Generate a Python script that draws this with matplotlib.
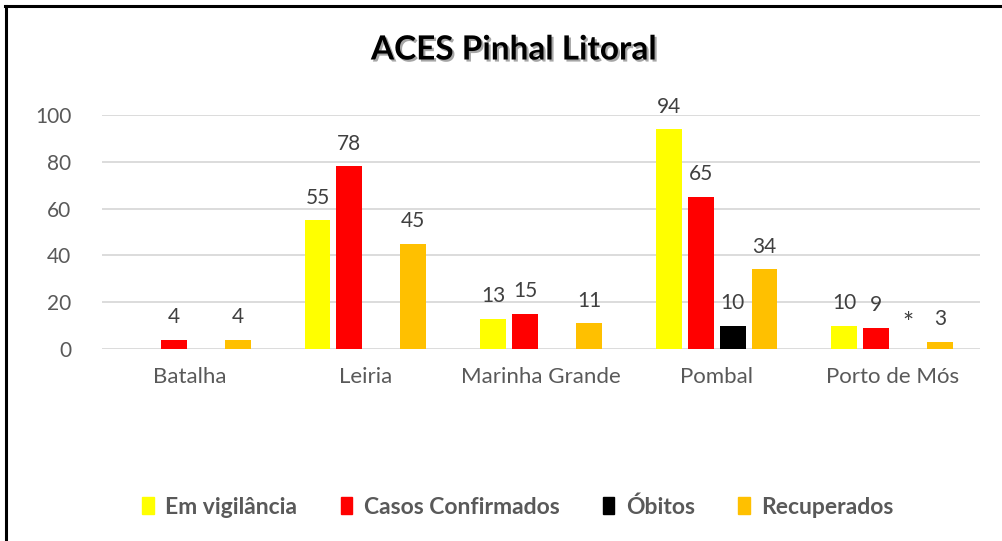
import numpy as np
import matplotlib
matplotlib.use("Agg")
import matplotlib.pyplot as plt
from matplotlib import patheffects
from matplotlib.lines import Line2D

plt.rcParams['font.family'] = ['Lato', 'DejaVu Sans']

categories = ["Batalha", "Leiria", "Marinha Grande", "Pombal", "Porto de Mós"]
series_names = ["Em vigilância", "Casos Confirmados", "Óbitos", "Recuperados"]
em_vigilancia = [np.nan, 55, 13, 94, 10]
casos_confirmados = [4, 78, 15, 65, 9]
obitos = [np.nan, np.nan, np.nan, 10, 0]
recuperados = [4, 45, 11, 34, 3]
obitos_labels = ["", "", "", "10", "*"]
yticks = [0, 20, 40, 60, 80, 100]

colors = ["#FFFF00", "#FF0000", "#000000", "#FFC000"]
gray = "#595959"
label_gray = "#404040"

fig = plt.figure(figsize=(10.03, 5.41), dpi=100)
ax = fig.add_axes([102/1003, 1-349/541, (980-102)/1003, (349-115)/541])

x = np.arange(len(categories))
step = 32/176
width = 26/176
all_series = [em_vigilancia, casos_confirmados, obitos, recuperados]
for i, (vals, c, name) in enumerate(zip(all_series, colors, series_names)):
    pos = x + (i - 1.5) * step
    v = np.array(vals, dtype=float)
    ax.bar(pos, np.nan_to_num(v), width=width, color=c, label=name, zorder=3)
    for j, (p, val) in enumerate(zip(pos, v)):
        if i == 2:
            txt = obitos_labels[j]
        else:
            txt = "" if np.isnan(val) else f"{int(val)}"
        if txt:
            yv = 0 if np.isnan(val) else val
            fs = 19 if txt == "*" else 15
            ax.annotate(txt, (p, yv), xytext=(0, 9), textcoords="offset points",
                        ha="center", va="bottom", fontsize=fs, color=label_gray)

ax.set_xlim(-0.5, len(categories) - 0.5)
ax.set_ylim(0, 100)
ax.set_yticks(yticks)
ax.set_xticks(x)
ax.set_xticklabels(categories, fontsize=16)
ax.tick_params(axis='both', length=0, colors=gray)
ax.tick_params(axis='y', labelsize=15, pad=22)
ax.tick_params(axis='x', pad=13)
for s in ax.spines.values():
    s.set_visible(False)
ax.yaxis.grid(True, color="#D9D9D9", linewidth=1.3, zorder=0)
ax.set_axisbelow(True)

t = fig.text(514/1003, 1-50/541, "ACES Pinhal Litoral", ha="center", va="center",
             fontsize=24, fontweight="bold", color="black")
t.set_path_effects([patheffects.withSimplePatchShadow(offset=(1.5, -1.5), shadow_rgbFace="black", alpha=0.35)])

handles = [plt.Rectangle((0, 0), 1, 1, color=c) for c in colors]
leg = fig.legend(handles, series_names, loc="center", bbox_to_anchor=(518/1003, 1-507/541),
                 ncol=4, frameon=False, handlelength=0.5, handleheight=0.75,
                 handletextpad=0.5, columnspacing=1.9,
                 prop={'size': 16.5, 'weight': 'bold'})
for txt in leg.get_texts():
    txt.set_color(gray)

# partial border (top and left)
fig.add_artist(Line2D([6/1003, 6/1003], [0, 1-6/541], color="black", linewidth=2.2, transform=fig.transFigure))
fig.add_artist(Line2D([5/1003, 1], [1-6/541, 1-6/541], color="black", linewidth=2.2, transform=fig.transFigure))

fig.savefig("out.png", dpi=100)
